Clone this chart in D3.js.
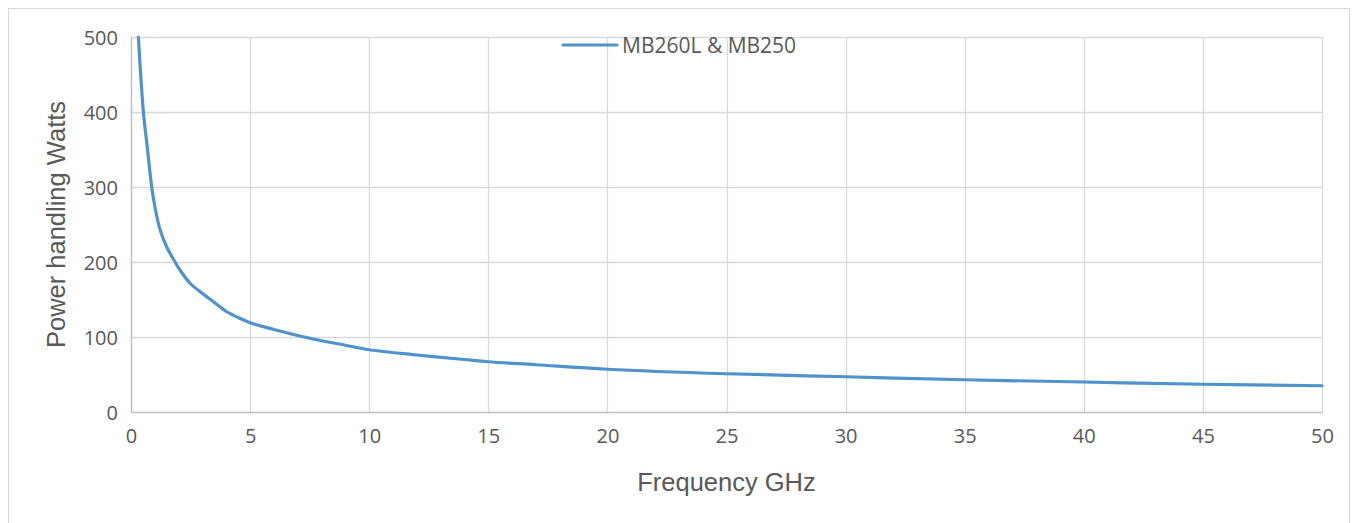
<!DOCTYPE html>
<html lang="en">
<head>
<meta charset="utf-8">
<title>Power handling vs frequency</title>
<script src="https://d3js.org/d3.v7.min.js"></script>
<style>
  body { margin: 0; background: #fff; }
  .tick text { font-family: "Open Sans", Calibri, sans-serif; font-size: 20px; fill: #595959; }
  .axis-title { font-family: "Liberation Sans", Arial, sans-serif; font-size: 25.5px; fill: #595959; }
  .legend text { font-family: "Open Sans", Calibri, sans-serif; font-size: 21px; fill: #595959; }
</style>
</head>
<body>
<div id="chart"></div>
<script>
// values
var freqGHz = [0.31, 0.52, 0.68, 0.87, 1.0, 1.22, 1.5, 1.85, 2.06, 2.5, 3, 3.5, 4, 4.5, 5, 6, 7, 8, 9, 10, 12, 14, 15, 17, 20, 25, 30, 35, 40, 45, 50];
var powerW  = [500, 400, 354, 300, 274, 243, 220, 200, 189, 171, 158, 146, 134, 126, 119, 110, 102, 95, 89, 83, 76, 70, 67, 63, 57, 51, 47, 43, 40, 37, 35];
var xTicks = [0, 5, 10, 15, 20, 25, 30, 35, 40, 45, 50];
var yTicks = [0, 100, 200, 300, 400, 500];
var seriesName = "MB260L & MB250";

var W = 1354, H = 523;
var margin = {top: 37, right: 32, bottom: 111, left: 131};
var width = W - margin.left - margin.right,
    height = H - margin.top - margin.bottom;

var svg = d3.select("#chart").append("svg")
    .attr("width", W)
    .attr("height", H);

// chart frame
svg.append("rect")
    .attr("x", 8.5).attr("y", 8.5)
    .attr("width", 1341).attr("height", 530)
    .attr("fill", "none").attr("stroke", "#d9d9d9");

var g = svg.append("g")
    .attr("transform", "translate(" + margin.left + "," + margin.top + ")");

var x = d3.scaleLinear().domain([0, 50]).range([0, width]);
var y = d3.scaleLinear().domain([0, 500]).range([height, 0]);

// gridlines
g.selectAll(".vgrid").data(xTicks.slice(1)).enter().append("line")
    .attr("x1", function(d) { return Math.round(x(d)) + 0.5; })
    .attr("x2", function(d) { return Math.round(x(d)) + 0.5; })
    .attr("y1", 0).attr("y2", height)
    .attr("stroke", "#d9d9d9").attr("stroke-width", 1.3);
g.selectAll(".hgrid").data(yTicks.slice(1)).enter().append("line")
    .attr("y1", function(d) { return Math.round(y(d)) + 0.5; })
    .attr("y2", function(d) { return Math.round(y(d)) + 0.5; })
    .attr("x1", 0).attr("x2", width)
    .attr("stroke", "#d9d9d9").attr("stroke-width", 1.3);

// axes
var xAxis = g.append("g")
    .attr("transform", "translate(0," + height + ")")
    .call(d3.axisBottom(x).tickValues(xTicks).tickSize(0).tickPadding(17));
xAxis.select(".domain").attr("stroke", "#bfbfbf").attr("stroke-width", 1.5);

var yAxis = g.append("g")
    .call(d3.axisLeft(y).tickValues(yTicks).tickSize(0).tickPadding(13));
yAxis.select(".domain").attr("stroke", "#bfbfbf").attr("stroke-width", 1.5);
yAxis.selectAll(".tick text").attr("dy", "0.35em");

// series line
var line = d3.line()
    .x(function(d, i) { return x(freqGHz[i]); })
    .y(function(d) { return y(d); })
    .curve(d3.curveCatmullRom.alpha(0.5));

g.append("path")
    .datum(powerW)
    .attr("fill", "none")
    .attr("stroke", "#5093cc")
    .attr("stroke-width", 3.2)
    .attr("stroke-linecap", "round")
    .attr("d", line);

// axis titles
svg.append("text")
    .attr("class", "axis-title")
    .attr("x", margin.left + width / 2)
    .attr("y", 491)
    .attr("text-anchor", "middle")
    .text("Frequency GHz");

svg.append("text")
    .attr("class", "axis-title")
    .attr("transform", "translate(65," + (margin.top + height / 2) + ") rotate(-90)")
    .attr("text-anchor", "middle")
    .text("Power handling Watts");

// legend
var legend = svg.append("g").attr("class", "legend")
    .attr("transform", "translate(563,45)");
legend.append("line")
    .attr("x1", 0).attr("x2", 54).attr("y1", 0).attr("y2", 0)
    .attr("stroke", "#5093cc").attr("stroke-width", 3.2).attr("stroke-linecap", "round");
legend.append("text")
    .attr("x", 59).attr("y", 7.5)
    .text(seriesName);
</script>
</body>
</html>
